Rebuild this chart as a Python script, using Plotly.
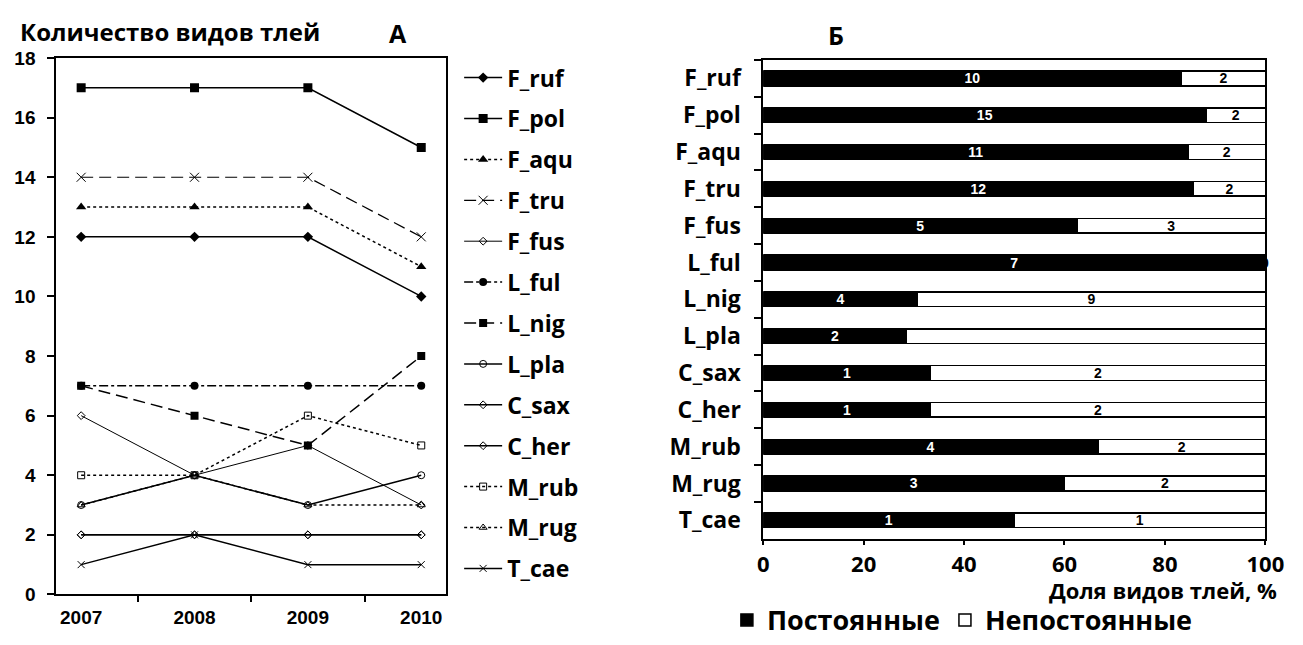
import plotly.graph_objects as go

# ---- Panel A: number of aphid species per ant species, by year ----
years = ["2007", "2008", "2009", "2010"]

f_ruf = [12, 12, 12, 10]
f_pol = [17, 17, 17, 15]
f_aqu = [13, 13, 13, 11]
f_tru = [14, 14, 14, 12]
f_fus = [6, 4, 5, 3]
l_ful = [7, 7, 7, 7]
l_nig = [7, 6, 5, 8]
l_pla = [3, 4, 3, 4]
c_sax = [2, 2, 2, 2]
c_her = [2, 2, 2, 2]
m_rub = [4, 4, 6, 5]
m_rug = [3, 4, 3, 3]
t_cae = [1, 2, 1, 1]

y_ticks = [0, 2, 4, 6, 8, 10, 12, 14, 16, 18]

# ---- Panel Б: constant vs. non-constant aphid species ----
species = ["F_ruf", "F_pol", "F_aqu", "F_tru", "F_fus", "L_ful", "L_nig",
           "L_pla", "C_sax", "C_her", "M_rub", "M_rug", "T_cae"]
constant = [10, 15, 11, 12, 5, 7, 4, 2, 1, 1, 4, 3, 1]
inconstant = [2, 2, 2, 2, 3, 0, 9, 5, 2, 2, 2, 2, 1]
unlabelled_inconstant = ["L_pla"]

x_ticks = [0, 20, 40, 60, 80, 100]

W, H = 1303, 645


def px(x):
    return x / W


def py(y):
    return 1 - y / H


SANS = "Open Sans"
ARIAL = "Liberation Sans, Arial"

series = [
    ("F_ruf", f_ruf, dict(dash="solid", width=1.5), dict(symbol="diamond", size=8, color="black")),
    ("F_pol", f_pol, dict(dash="solid", width=1.5), dict(symbol="square", size=9, color="black")),
    ("F_aqu", f_aqu, dict(dash="dot", width=1.5), dict(symbol="triangle-up", size=9, color="black")),
    ("F_tru", f_tru, dict(dash="12px,6px", width=1.2), dict(symbol="x-thin", size=9, color="black",
                                                              line=dict(width=1, color="black"))),
    ("F_fus", f_fus, dict(dash="solid", width=1), dict(symbol="diamond-open", size=6, color="black")),
    ("L_ful", l_ful, dict(dash="dashdot", width=1.5), dict(symbol="circle", size=8, color="black")),
    ("L_nig", l_nig, dict(dash="12px,6px", width=1.5), dict(symbol="square", size=8, color="black")),
    ("L_pla", l_pla, dict(dash="solid", width=1.5), dict(symbol="circle-open", size=7, color="black")),
    ("C_sax", c_sax, dict(dash="solid", width=1.5), dict(symbol="diamond-open", size=6, color="black")),
    ("C_her", c_her, dict(dash="solid", width=1.5), dict(symbol="diamond-open", size=6, color="black")),
    ("M_rub", m_rub, dict(dash="dot", width=1.5), dict(symbol="square-open", size=7, color="black")),
    ("M_rug", m_rug, dict(dash="dot", width=1.5), dict(symbol="triangle-up-open", size=7, color="black")),
    ("T_cae", t_cae, dict(dash="solid", width=1.5), dict(symbol="x-thin", size=7, color="black",
                                                         line=dict(width=1, color="black"))),
]

fig = go.Figure()

for name, values, line, marker in series:
    fig.add_trace(go.Scatter(
        x=years, y=values, name=name, mode="lines+markers",
        line=dict(color="black", **line), marker=marker,
        legendgroup=name, legend="legend",
        xaxis="x", yaxis="y",
    ))

pct_const = [100 * c / (c + n) for c, n in zip(constant, inconstant)]
pct_incon = [100 * n / (c + n) for c, n in zip(constant, inconstant)]

fig.add_trace(go.Bar(
    y=species, x=pct_const, orientation="h", name="Постоянные",
    marker=dict(color="black", line=dict(color="black", width=1.5)),
    text=[str(v) for v in constant], textposition="inside",
    insidetextanchor="middle", textangle=0, constraintext="none",
    textfont=dict(color="white", size=14, family=ARIAL, weight="bold"),
    width=0.4, xaxis="x2", yaxis="y2", legend="legend2",
))
fig.add_trace(go.Bar(
    y=species, x=pct_incon, orientation="h", name="Непостоянные",
    marker=dict(color="white", line=dict(color="black", width=1.5)),
    text=["" if s in unlabelled_inconstant else str(v) for s, v in zip(species, inconstant)],
    textposition="inside", insidetextanchor="middle", textangle=0,
    constraintext="none",
    textfont=dict(color="black", size=14, family=ARIAL, weight="bold"),
    width=0.4, xaxis="x2", yaxis="y2", legend="legend2",
))

annotations = [
    dict(text="Количество видов тлей", x=px(12), y=py(22), xanchor="left", yanchor="middle",
         font=dict(family=SANS, size=24, weight="bold", color="black")),
    dict(text="А", x=px(400), y=py(24), xanchor="center", yanchor="middle",
         font=dict(family=SANS, size=25, weight="bold", color="black")),
    dict(text="Б", x=px(846), y=py(26), xanchor="center", yanchor="middle",
         font=dict(family=SANS, size=25, weight="bold", color="black")),
    dict(text="Доля видов тлей, %", x=px(1298), y=py(603), xanchor="right", yanchor="middle",
         font=dict(family=SANS, size=22, weight="bold", color="black")),
]
# zero-width segment labels sit on the right edge
for s, c, n in zip(species, constant, inconstant):
    if n == 0:
        annotations.append(dict(
            text=str(n), x=100, y=s, xref="x2", yref="y2", xanchor="center",
            yanchor="middle", showarrow=False,
            font=dict(family=ARIAL, size=14, weight="bold", color="black")))

for a in annotations:
    a.setdefault("xref", "paper")
    a.setdefault("yref", "paper")
    a.setdefault("showarrow", False)

fig.update_layout(
    width=W, height=H,
    margin=dict(l=0, r=0, t=0, b=0),
    paper_bgcolor="white", plot_bgcolor="white",
    barmode="stack",
    annotations=annotations,
    xaxis=dict(
        domain=[px(51), px(449)], type="category", tickson="boundaries",
        showline=True, linecolor="black", linewidth=1.5, mirror=True,
        ticks="outside", ticklen=6, tickcolor="black", tickwidth=1.5,
        showgrid=False, zeroline=False,
        tickfont=dict(family=ARIAL, size=19, weight="bold", color="black"),
        ticklabelstandoff=5,
    ),
    yaxis=dict(
        domain=[py(608), py(50)], range=[0, 18], tickvals=y_ticks,
        showline=True, linecolor="black", linewidth=1.5, mirror=True,
        ticks="outside", ticklen=7, tickcolor="black", tickwidth=1.5,
        showgrid=False, zeroline=False,
        tickfont=dict(family=ARIAL, size=19, weight="bold", color="black"),
        ticklabelstandoff=8,
    ),
    xaxis2=dict(
        domain=[px(772), px(1284)], range=[0, 100], tickvals=x_ticks,
        anchor="y2",
        showline=True, linecolor="black", linewidth=1.5, mirror=True,
        ticks="outside", ticklen=5, tickcolor="black", tickwidth=1.5,
        showgrid=False, zeroline=False,
        tickfont=dict(family=SANS, size=22, weight="bold", color="black"),
        ticklabelstandoff=0,
    ),
    yaxis2=dict(
        domain=[py(550), py(52)], type="category", tickson="boundaries",
        categoryorder="array", categoryarray=species, autorange="reversed",
        anchor="x2",
        showline=True, linecolor="black", linewidth=1.5, mirror=True,
        ticks="outside", ticklen=7, tickcolor="black", tickwidth=1.5,
        showgrid=False, zeroline=False,
        tickfont=dict(family=SANS, size=23, weight="bold", color="black"),
        ticklabelstandoff=16,
    ),
    legend=dict(
        x=px(462), y=py(48), xanchor="left", yanchor="top",
        orientation="v", tracegroupgap=8, itemwidth=38,
        font=dict(family=SANS, size=23, weight="bold", color="black"),
        bgcolor="rgba(0,0,0,0)", borderwidth=0, itemclick=False,
    ),
    legend2=dict(
        x=px(735), y=py(635), xanchor="left", yanchor="middle",
        orientation="h", traceorder="normal",
        font=dict(family=SANS, size=27, weight="bold", color="black"),
        bgcolor="rgba(0,0,0,0)", borderwidth=0, itemclick=False,
    ),
    showlegend=True,
)

fig.write_html("out.html")
